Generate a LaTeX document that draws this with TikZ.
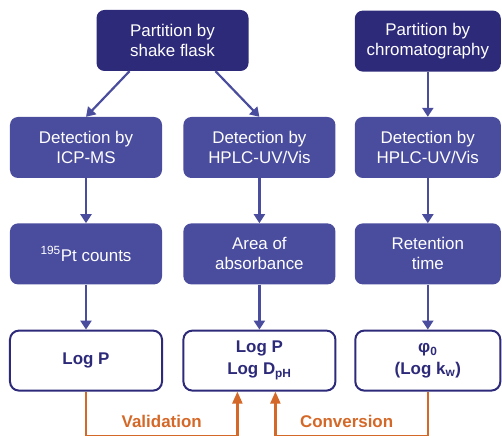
\documentclass[tikz,border=0pt]{standalone}
\usepackage{fontspec}
\setmainfont{Liberation Sans}
\usetikzlibrary{positioning,arrows.meta}
\definecolor{navy}{RGB}{45,42,122}
\definecolor{slate}{RGB}{74,76,157}
\definecolor{rust}{RGB}{212,104,40}

\begin{document}
\begin{tikzpicture}[x=1bp,y=1bp,
		node distance=45bp and 21bp,
		every node/.style={font=\fontsize{17}{20}\selectfont, align=center, inner sep=2bp},
		topbox/.style={fill=navy, text=white, rounded corners=8bp, minimum width=152bp, minimum height=61bp},
		detbox/.style={fill=slate, text=white, rounded corners=8bp, minimum width=152bp, minimum height=61bp},
		resbox/.style={draw=navy, line width=2bp, fill=white, text=navy, rounded corners=9bp, minimum width=152bp, minimum height=60bp, font=\fontsize{17}{22}\selectfont\bfseries},
		flow/.style={draw=slate, line width=2.2bp, -{Triangle[width=11bp,length=9bp]}},
		link/.style={draw=rust, line width=2.2bp, -{Triangle[width=10bp,length=12bp]}}]
			\useasboundingbox (0,0) rectangle (502,-436);
			% rows of the three columns
			\node[detbox] (icp) at (86,-147.5) {Detection by\\ICP-MS};
			\node[detbox, right = of icp] (hplc) {Detection by\\HPLC-UV/Vis};
			\node[detbox, right = 19bp of hplc, minimum width=146bp] (hplc2) {Detection by\\HPLC-UV/Vis};
			\node[detbox, below = of icp] (pt) {\textsuperscript{195}Pt counts};
			\node[detbox, below = of hplc] (area) {Area of\\absorbance};
			\node[detbox, below = of hplc2, minimum width=146bp] (ret) {Retention\\time};
			\node[resbox, below = of pt] (logp) {Log P};
			\node[resbox, below = of area] (logd) {Log P\\Log D\textsubscript{pH}};
			\node[resbox, below = of ret, minimum width=145bp] (phi) {φ\textsubscript{0}\\(Log k\textsubscript{w})};
			\node[topbox] (flask) at (172.5,-40.5) {Partition by\\shake flask};
			\node[topbox, above = of hplc2, minimum width=146bp] (chrom) {Partition by\\chromatography};
			% arrows
			\draw[flow] ([xshift=-43bp]flask.south) -- (icp.north);
			\draw[flow] ([xshift=43bp]flask.south) -- (hplc.north);
			\draw[flow] (chrom) -- (hplc2);
			\draw[flow] (icp) -- (pt);
			\draw[flow] (hplc) -- (area);
			\draw[flow] (hplc2) -- (ret);
			\draw[flow] (pt) -- (logp);
			\draw[flow] (area) -- (logd);
			\draw[flow] (ret) -- (phi);
			\draw[link] (logp.south) -- ++(0,-44) -| ([xshift=-22bp]logd.south)
				node[pos=0.25, above=7bp, inner sep=0pt, text=rust, font=\fontsize{17}{20}\selectfont\bfseries] {Validation};
			\draw[link] (phi.south) -- ++(0,-44) -| ([xshift=16bp]logd.south)
				node[pos=0.25, above=7bp, inner sep=0pt, xshift=-5bp, text=rust, font=\fontsize{17}{20}\selectfont\bfseries] {Conversion};
		\end{tikzpicture}
\end{document}
